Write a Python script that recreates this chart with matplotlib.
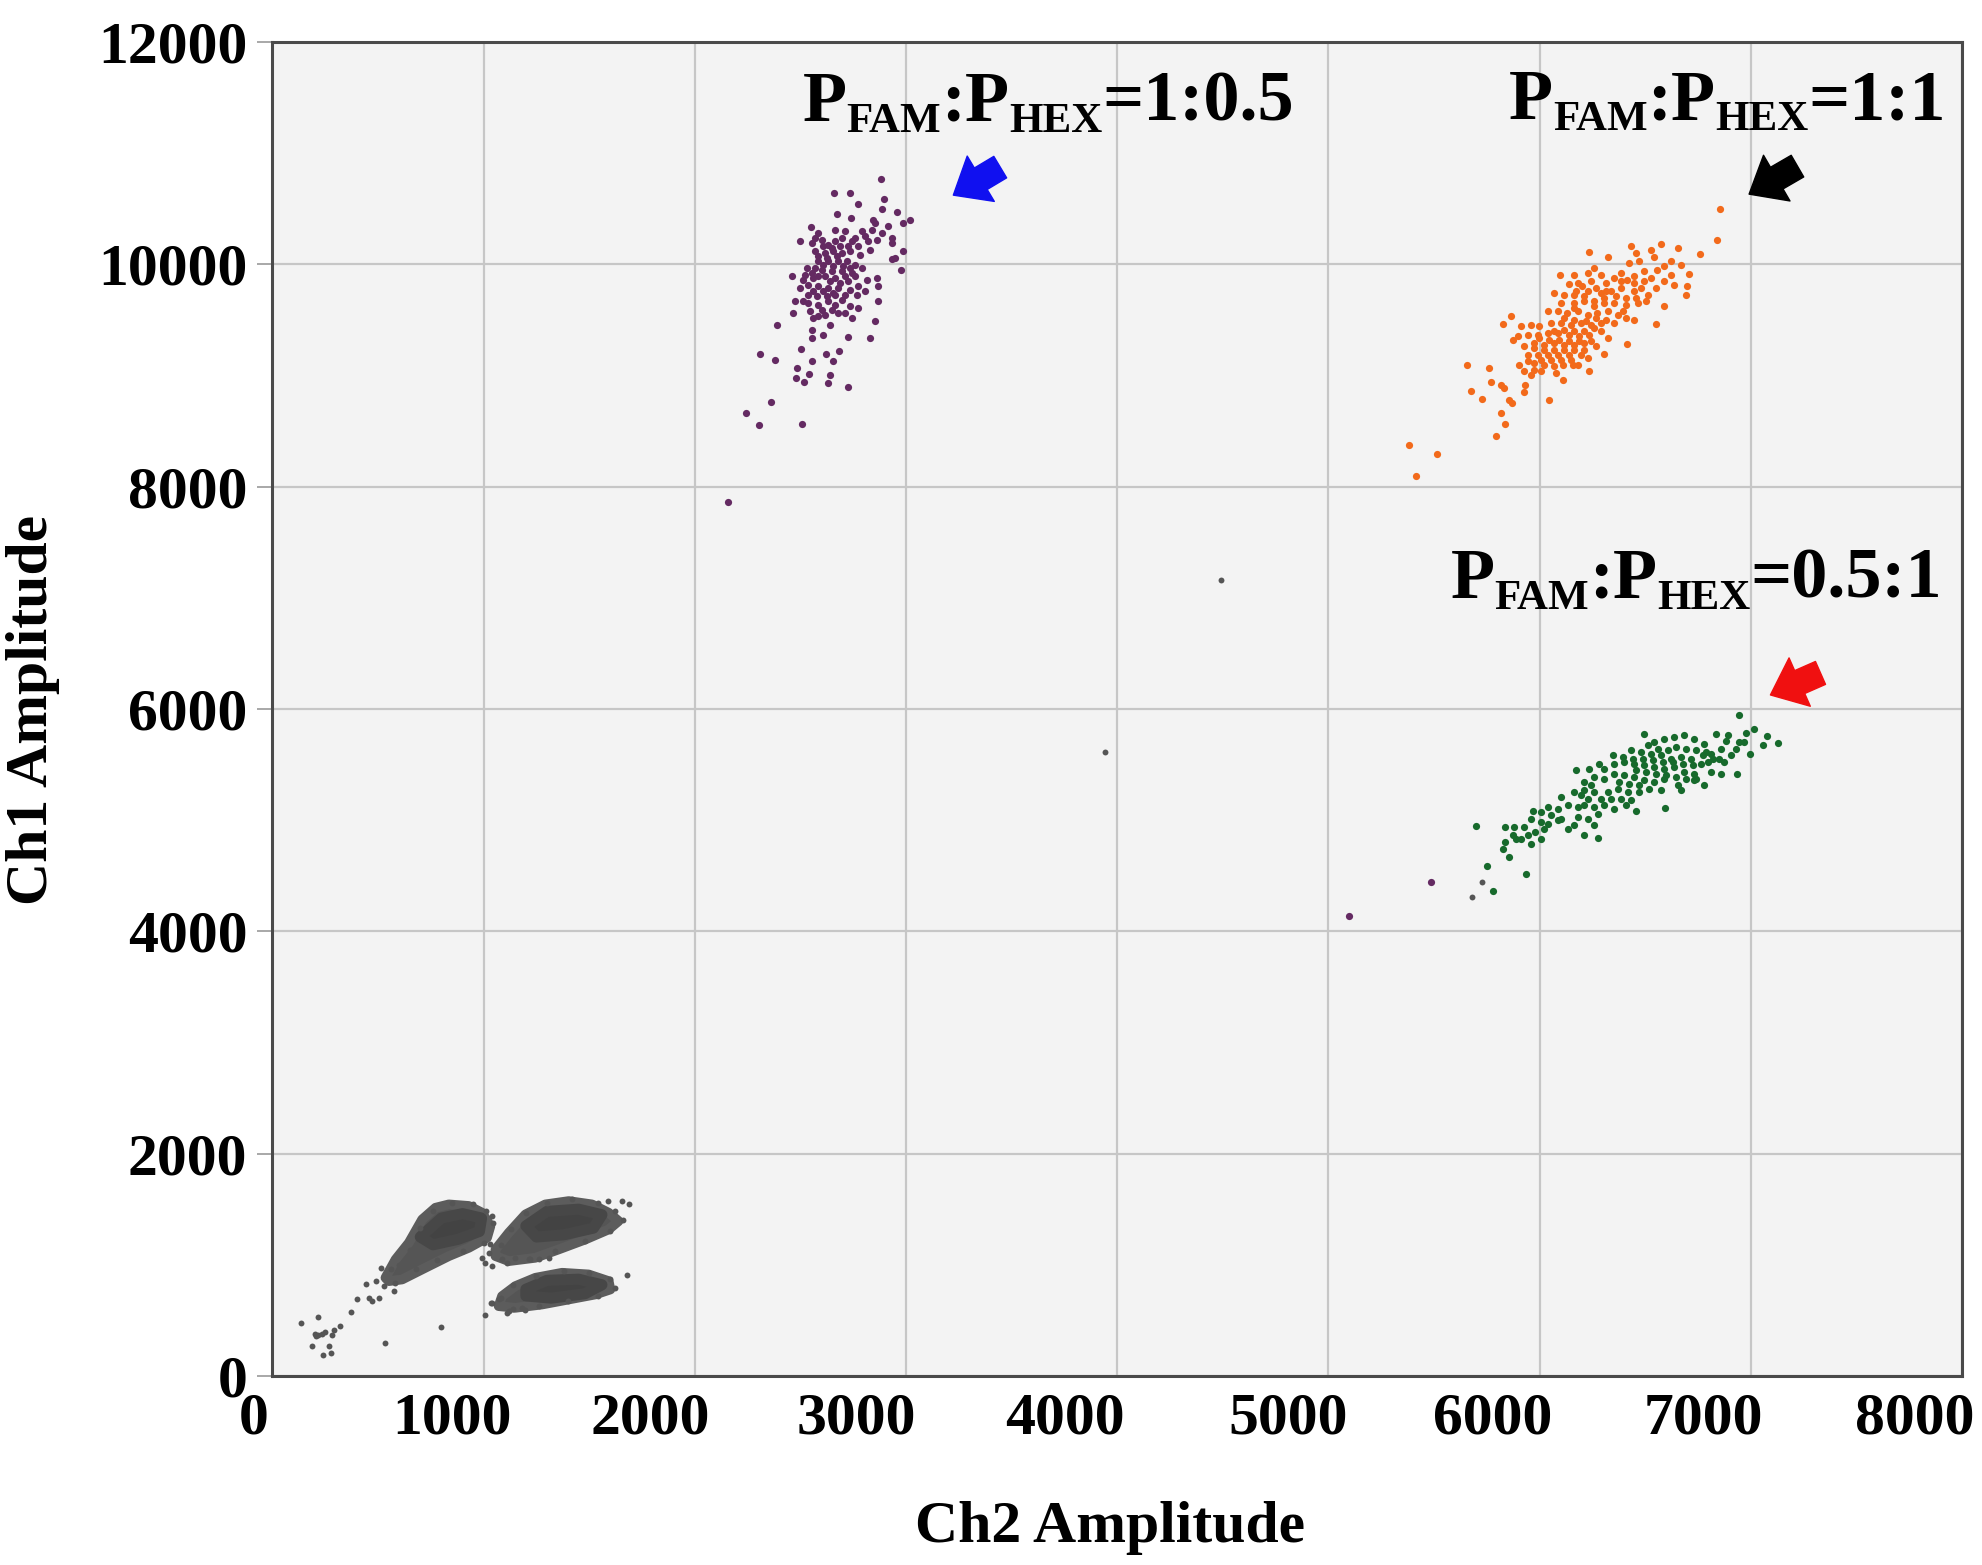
import matplotlib
matplotlib.use("Agg")
import matplotlib.pyplot as plt
from matplotlib.transforms import ScaledTranslation

# ---------------- data ----------------
x_ticks = [0, 1000, 2000, 3000, 4000, 5000, 6000, 7000, 8000]
y_ticks = [0, 2000, 4000, 6000, 8000, 10000, 12000]
x_label = "Ch2 Amplitude"
y_label = "Ch1 Amplitude"

# FAM+ / HEX(low) cluster (purple)
purple_x = [2881, 2661, 2735, 2774, 2897, 2885, 2959, 2672, 2740, 2845, 3019, 2987, 2550, 2916,
            2585, 2664, 2711, 2790, 2837, 2853, 2885, 2932, 2498, 2554, 2601, 2632, 2664, 2695,
            2743, 2774, 2822, 2861, 2932, 2987, 2932, 2948, 2976, 2569, 2617, 2656, 2695, 2735,
            2782, 2585, 2632, 2680, 2719, 2758, 2790, 2530, 2554, 2601, 2648, 2695, 2743, 2459,
            2514, 2561, 2617, 2664, 2711, 2758, 2814, 2861, 2498, 2538, 2585, 2632, 2680, 2735,
            2774, 2869, 2538, 2577, 2624, 2664, 2711, 2766, 2475, 2538, 2585, 2632, 2664, 2735,
            2774, 2866, 2467, 2546, 2585, 2617, 2680, 2711, 2743, 2853, 2388, 2640, 2554, 2609,
            2554, 2724, 2829, 2503, 2684, 2309, 2621, 2380, 2554, 2656, 2483, 2640, 2542, 2478,
            2517, 2632, 2724, 2360, 2243, 2304, 2509, 2159, 5487, 5096,
            2569, 2609, 2648, 2688, 2727, 2758, 2806, 2829, 2585, 2624, 2672, 2703, 2735, 2656,
            2609, 2569, 2522, 2585, 2640, 2688, 2727, 2561, 2609, 2656, 2695, 2601, 2648, 2561,
            2514, 2806]
purple_y = [10763, 10637, 10637, 10538, 10589, 10493, 10469, 10454, 10418, 10402, 10402, 10372,
            10333, 10342, 10282, 10312, 10297, 10297, 10312, 10372, 10282, 10237, 10207, 10192,
            10222, 10177, 10207, 10237, 10207, 10162, 10207, 10222, 10192, 10123, 10051, 10057,
            9952, 10117, 10102, 10117, 10102, 10117, 10087, 10027, 10027, 10027, 10027, 9997,
            9967, 9967, 9922, 9952, 9937, 9937, 9922, 9892, 9862, 9877, 9892, 9877, 9892, 9892,
            9862, 9877, 9787, 9817, 9802, 9787, 9787, 9772, 9802, 9802, 9727, 9712, 9712, 9727,
            9727, 9727, 9667, 9652, 9637, 9667, 9637, 9622, 9607, 9673, 9562, 9577, 9532, 9547,
            9562, 9562, 9517, 9493, 9457, 9457, 9411, 9366, 9336, 9342, 9336, 9240, 9222, 9192,
            9192, 9135, 9126, 9126, 9066, 9006, 9012, 8976, 8940, 8931, 8892, 8760, 8661, 8556,
            8562, 7865, 4447, 4141,
            10237, 10162, 10147, 10162, 10162, 10237, 10252, 10132, 10072, 10057, 10072, 9982,
            9967, 9982, 9997, 9967, 9907, 9892, 9847, 9832, 9847, 9757, 9757, 9742, 9682, 9592,
            9592, 9517, 9667, 9757]

# FAM+ / HEX+ cluster (orange)
orange_x = [6853, 6842, 6760, 6577, 6656, 6527, 6432, 6456, 6542, 6232, 6322, 6472, 6424, 6621,
            6669, 6590, 6558, 6708, 6259, 6098, 6227, 6290, 6385, 6495, 6527, 6448, 6416, 6353,
            6314, 6243, 6180, 6140, 6637, 6700, 6692, 6479, 6448, 6385, 6337, 6290, 6227, 6172,
            6069, 6117, 6590, 6503, 6464, 6408, 6353, 6306, 6259, 6211, 6164, 6101, 6369, 6448,
            6408, 6322, 6274, 6227, 6180, 6132, 6085, 6038, 6552, 6290, 6243, 6196, 6148, 6101,
            6054, 5998, 5959, 5912, 5864, 5825, 5896, 5943, 5991, 6038, 6085, 6140, 6188, 6235,
            6290, 6322, 5872, 5928, 5975, 6022, 6069, 6117, 6164, 6211, 6266, 6412, 6306, 5943,
            5991, 6038, 6085, 6140, 6196, 6227, 5904, 5928, 5975, 6022, 6069, 6109, 6156, 6235,
            5959, 6006, 6077, 6109, 5655, 5762, 5770, 5817, 5833, 5675, 5726, 5857, 5868, 5931,
            5928, 6043, 5817, 5836, 5795, 5380, 5513, 5415,
            6164, 6203, 6267, 6314, 6361, 6408, 6456, 6511, 6550, 6590, 6621, 6164, 6211, 6306,
            6259, 6164, 6117, 6164, 6219, 6267, 6314, 6353, 6393, 6069, 6117, 6164, 6211, 6259,
            5998, 6046, 6093, 6140, 6188, 6243, 5975, 6022, 6069, 6117, 6164, 6211, 6006, 6054,
            6101, 6148, 6180, 5943, 5975, 6495, 6448, 6385]
orange_y = [10499, 10214, 10093, 10184, 10147, 10132, 10163, 10102, 10063, 10108, 10063, 10027,
            10012, 10027, 9997, 9982, 9952, 9913, 9967, 9901, 9922, 9907, 9922, 9937, 9877, 9892,
            9862, 9877, 9832, 9847, 9832, 9823, 9817, 9802, 9727, 9787, 9757, 9787, 9757, 9742,
            9757, 9757, 9742, 9727, 9622, 9667, 9652, 9637, 9652, 9652, 9667, 9667, 9652, 9652,
            9547, 9502, 9517, 9577, 9562, 9547, 9577, 9562, 9577, 9577, 9463, 9472, 9457, 9472,
            9457, 9472, 9472, 9442, 9457, 9442, 9532, 9463, 9352, 9367, 9367, 9382, 9382, 9367,
            9352, 9367, 9397, 9337, 9322, 9262, 9292, 9277, 9292, 9277, 9277, 9292, 9262, 9283,
            9196, 9187, 9187, 9187, 9187, 9187, 9187, 9157, 9096, 9036, 9111, 9096, 9081, 9096,
            9096, 9036, 9006, 9036, 9021, 8961, 9096, 9066, 8940, 8916, 8886, 8856, 8790, 8781,
            8751, 8916, 8847, 8781, 8661, 8562, 8457, 8376, 8297, 8091,
            9907, 9802, 9787, 9757, 9712, 9697, 9697, 9727, 9787, 9847, 9907, 9727, 9712, 9697,
            9622, 9607, 9517, 9502, 9487, 9517, 9502, 9472, 9577, 9397, 9412, 9397, 9397, 9427,
            9337, 9322, 9322, 9307, 9307, 9307, 9247, 9232, 9232, 9232, 9232, 9232, 9141, 9141,
            9141, 9141, 9096, 9126, 9051, 9847, 9832, 9847]

# HEX+ / FAM(low) cluster (green)
green_x = [6942, 7013, 6977, 7127, 7079, 7056, 6997, 6937, 6930, 6945, 6882, 6835, 6859, 6811,
           6780, 6732, 6685, 6638, 6591, 6543, 6496, 6764, 6717, 6669, 6622, 6575, 6528, 6480,
           6433, 6796, 6859, 6780, 6732, 6685, 6638, 6591, 6543, 6496, 6449, 6401, 6354, 6307,
           6591, 6543, 6496, 6449, 6401, 6354, 6307, 6259, 6212, 6173, 6236, 6283, 6575, 6520,
           6472, 6417, 6370, 6323, 6259, 6212, 6165, 6594, 6457, 6409, 6354, 6307, 6259, 6212,
           6181, 6102, 6133, 6086, 6039, 6007, 5968, 6275, 6228, 6181, 6259, 6275, 6212, 6165,
           6133, 6086, 6039, 6007, 5960, 5928, 5881, 5834, 5697, 6007, 5960, 5913, 5873, 5834,
           5826, 5857, 5752, 5936, 5779,
           6346, 6393, 6441, 6488, 6535, 6583, 6630, 6677, 6725, 6772, 6819, 6851, 6646, 6693,
           6740, 6788, 6457, 6504, 6551, 6598, 6646, 6693, 6740, 6378, 6425, 6472, 6654, 6386,
           6433, 6338, 6291, 6228, 6196, 6244, 6102, 6054, 6023, 5976, 5889, 5944, 6874, 6906,
           6811, 6732, 6669, 6512, 6559, 6606, 6890, 6969]
green_y = [5949, 5817, 5787, 5694, 5754, 5673, 5591, 5417, 5636, 5703, 5709, 5778, 5643, 5597,
           5688, 5733, 5763, 5748, 5733, 5703, 5778, 5507, 5552, 5567, 5552, 5582, 5597, 5612,
           5628, 5522, 5417, 5312, 5417, 5432, 5477, 5462, 5477, 5492, 5507, 5522, 5507, 5462,
           5372, 5342, 5357, 5387, 5402, 5417, 5372, 5387, 5342, 5447, 5462, 5507, 5267, 5282,
           5252, 5252, 5282, 5252, 5252, 5267, 5252, 5108, 5078, 5132, 5102, 5132, 5117, 5132,
           5117, 5207, 5132, 5102, 5117, 5072, 5078, 5057, 5012, 5027, 4952, 4841, 4862, 4952,
           4922, 4997, 4967, 4982, 5012, 4937, 4937, 4937, 4943, 4832, 4787, 4832, 4862, 4802,
           4742, 4666, 4591, 4516, 4360,
           5582, 5567, 5552, 5552, 5537, 5522, 5522, 5507, 5492, 5582, 5552, 5552, 5658, 5643,
           5628, 5612, 5447, 5432, 5417, 5402, 5387, 5372, 5372, 5342, 5327, 5312, 5312, 5192,
           5177, 5192, 5192, 5192, 5222, 5312, 5012, 5042, 4922, 4892, 4832, 4862, 5522, 5582,
           5432, 5357, 5267, 5673, 5643, 5628, 5763, 5703]

# negative droplets (gray): dense blob outlines + scattered droplets
blobA_x = [535, 583, 646, 709, 772, 835, 930, 993, 1032, 1016, 930, 835, 724, 614, 551]
blobA_y = [883, 1048, 1198, 1408, 1513, 1543, 1529, 1468, 1348, 1243, 1153, 1078, 973, 868, 853]
blobA_core_x = [700, 800, 900, 990, 980, 880, 760]
blobA_core_y = [1250, 1420, 1460, 1420, 1300, 1230, 1180]
blobB_x = [1056, 1119, 1198, 1292, 1403, 1513, 1592, 1639, 1592, 1482, 1355, 1245, 1119, 1056]
blobB_y = [1138, 1288, 1453, 1543, 1573, 1543, 1468, 1393, 1318, 1228, 1138, 1063, 1033, 1078]
blobB_core_x = [1200, 1300, 1450, 1560, 1520, 1380, 1250]
blobB_core_y = [1350, 1480, 1500, 1450, 1330, 1270, 1250]
blobC_x = [1087, 1150, 1245, 1371, 1497, 1592, 1600, 1529, 1403, 1277, 1150, 1071]
blobC_y = [718, 808, 883, 928, 913, 853, 778, 733, 688, 643, 613, 628]
blobC_core_x = [1200, 1300, 1450, 1560, 1480, 1320, 1200]
blobC_core_y = [780, 860, 870, 820, 740, 700, 720]

gray_x = [133, 217, 200, 217, 233, 250, 208, 185, 239, 267, 275, 291, 322, 283, 370, 401, 444,
          456, 472, 488, 504, 512, 527, 575, 580, 532, 800, 1040, 993, 1008, 1032, 1024, 1040,
          1008, 1037, 1111, 1198, 1589, 1655, 1690, 1679, 3943, 4492, 5679, 5726,
          560, 600, 650, 700, 760, 850, 950, 1010, 1045, 1000, 900, 780, 680,
          1080, 1130, 1200, 1300, 1420, 1540, 1620, 1660, 1600, 1480, 1340, 1220, 1110,
          1080, 1140, 1250, 1380, 1500, 1600, 1620, 1540, 1400, 1260, 1140,
          1087, 1150, 1213, 1261, 1308, 1040, 1072, 1119, 1182]
gray_y = [477, 528, 380, 372, 380, 392, 357, 273, 192, 267, 207, 417, 447, 372, 573, 693, 823,
          703, 672, 853, 703, 973, 808, 763, 838, 297, 441, 1438, 1063, 1018, 1183, 1108, 988,
          552, 658, 567, 597, 1573, 1573, 1543, 904, 5615, 7164, 4306, 4441,
          960, 1000, 1130, 1330, 1480, 1560, 1545, 1480, 1380, 1200, 1120, 1040, 960,
          1180, 1320, 1470, 1560, 1590, 1560, 1480, 1400, 1300, 1210, 1120, 1050, 1020,
          700, 820, 900, 945, 930, 870, 790, 720, 670, 630, 600,
          1048, 1063, 1048, 1048, 1063, 658, 688, 582, 612]

# annotations: label text, label anchor (data), arrow tail and tip (data)
ann_values = ["1:0.5", "1:1", "0.5:1"]
ann_pos_x = [2509, 5854, 5579]
ann_pos_y = [11291, 11306, 7000]
arrow_tail_x = [3446, 7221, 7330]
arrow_tail_y = [10874, 10883, 6324]
arrow_tip_x = [3224, 6992, 7093]
arrow_tip_y = [10622, 10631, 6126]
arrow_colors = ["#1010f0", "#000000", "#f01010"]

# ---------------- figure ----------------
plt.rcParams['font.family'] = ['Liberation Serif', 'DejaVu Serif']
plt.rcParams['font.weight'] = 'bold'

DPI = 100
fig = plt.figure(figsize=(19.83, 15.65), dpi=DPI)
ax = fig.add_axes([0.1374, 0.1208, 0.9894 - 0.1374, 0.9732 - 0.1208])
ax.set_facecolor('#f3f3f3')
ax.set_xlim(0, 8000)
ax.set_ylim(0, 12000)

ax.set_xticks(x_ticks)
ax.set_yticks(y_ticks)
ax.set_xticklabels([str(v) for v in x_ticks])
ax.set_yticklabels([str(v) for v in y_ticks])
ax.grid(True, color='#c6c6c6', lw=1.6)
ax.set_axisbelow(True)
for sp in ax.spines.values():
    sp.set_color('#4a4a4a')
    sp.set_linewidth(2.2)
ax.tick_params(axis='x', length=0, pad=12, labelsize=43)
ax.tick_params(axis='y', length=11, width=1.2, color='#9a9a9a', pad=7, labelsize=43)
for lab in ax.get_xticklabels() + ax.get_yticklabels():
    lab.set_fontweight('bold')
x_label_shift = [-19, -32, -45, -50, -52, -40, -47, -47, -47]
for lab, dx in zip(ax.get_xticklabels(), x_label_shift):
    lab.set_transform(lab.get_transform() + ScaledTranslation(dx / DPI, 0, fig.dpi_scale_trans))

# gray negative clusters
for bx, by, cx, cy in [(blobA_x, blobA_y, blobA_core_x, blobA_core_y),
                       (blobB_x, blobB_y, blobB_core_x, blobB_core_y),
                       (blobC_x, blobC_y, blobC_core_x, blobC_core_y)]:
    ax.fill(bx, by, fc='#555555', ec='#5c5c5c', lw=7, joinstyle='round', zorder=2)
    ax.fill(cx, cy, fc='#434343', ec='#474747', lw=8, joinstyle='round', zorder=2.1)
ax.scatter(gray_x, gray_y, s=18, color='#555555', lw=0, zorder=3)

ax.scatter(purple_x, purple_y, s=27, color='#642a62', lw=0, zorder=3)
ax.scatter(orange_x, orange_y, s=27, color='#f26a1b', lw=0, zorder=3)
ax.scatter(green_x, green_y, s=27, color='#176a2c', lw=0, zorder=3)

# arrows
for tx, ty, hx, hy, c in zip(arrow_tail_x, arrow_tail_y, arrow_tip_x, arrow_tip_y, arrow_colors):
    ax.annotate('', xy=(hx, hy), xytext=(tx, ty), xycoords='data', textcoords='data',
                arrowprops=dict(arrowstyle='simple,head_length=2.3,head_width=3.8,tail_width=1.8',
                                mutation_scale=10, color=c, shrinkA=0, shrinkB=0), zorder=5)

# annotation labels with subscripts
fig.canvas.draw()
renderer = fig.canvas.get_renderer()
BIG, SMALL, SUB_DY = 52, 31, -11
for val, px, py in zip(ann_values, ann_pos_x, ann_pos_y):
    pieces = [("P", BIG, 0), ("FAM", SMALL, SUB_DY), (":P", BIG, 0), ("HEX", SMALL, SUB_DY),
              ("=" + val, BIG, 0)]
    off = 0.0
    for txt, size, dy in pieces:
        t = ax.annotate(txt, xy=(px, py), xycoords='data', xytext=(off, dy),
                        textcoords='offset pixels', fontsize=size, fontweight='bold',
                        ha='left', va='baseline', zorder=6)
        off += t.get_window_extent(renderer).width

fig.text(1110 / 1983, 1 - 1528 / 1565, x_label, ha='center', va='center', fontsize=43,
         fontweight='bold')
fig.text(33 / 1983, 1 - 710 / 1565, y_label, ha='center', va='center', fontsize=43,
         fontweight='bold', rotation=90)

fig.savefig('out.png', dpi=DPI, facecolor='white')
